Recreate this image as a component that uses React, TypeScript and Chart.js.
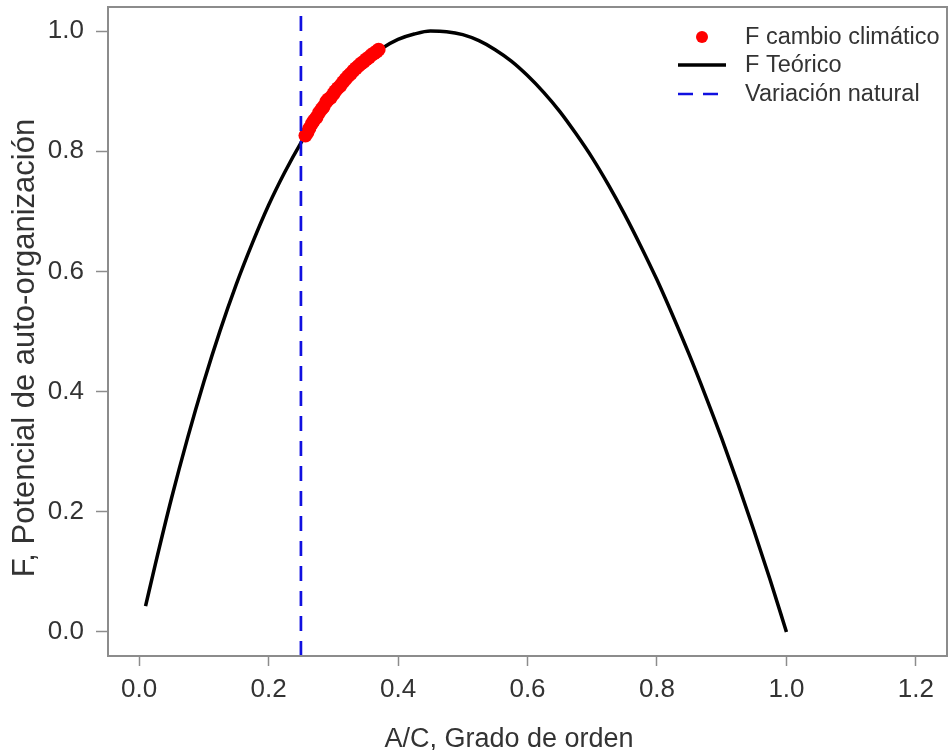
import React, { useEffect, useRef } from "react";
import { Chart, registerables } from "chart.js";

Chart.register(...registerables);

// ---- data ----
const THEO_X = [0.01, 0.025, 0.05, 0.075, 0.1, 0.125, 0.15, 0.175, 0.2, 0.225, 0.25, 0.275, 0.3, 0.325, 0.35, 0.375, 0.4, 0.425, 0.45, 0.475, 0.5, 0.525, 0.55, 0.575, 0.6, 0.625, 0.65, 0.675, 0.7, 0.725, 0.75, 0.775, 0.8, 0.825, 0.85, 0.875, 0.9, 0.925, 0.95, 0.975, 1.0];
const THEO_Y = [0.043, 0.112, 0.222, 0.323, 0.416, 0.501, 0.578, 0.647, 0.71, 0.765, 0.814, 0.857, 0.894, 0.926, 0.951, 0.971, 0.986, 0.995, 1.0, 0.999, 0.994, 0.984, 0.969, 0.95, 0.926, 0.898, 0.866, 0.829, 0.789, 0.744, 0.695, 0.642, 0.586, 0.525, 0.461, 0.393, 0.322, 0.247, 0.168, 0.086, 0.0];

const CC_X = [0.257, 0.26, 0.263, 0.267, 0.27, 0.274, 0.278, 0.282, 0.285, 0.289, 0.292, 0.296, 0.3, 0.303, 0.307, 0.311, 0.315, 0.319, 0.323, 0.327, 0.331, 0.335, 0.339, 0.343, 0.347, 0.351, 0.355, 0.359, 0.363, 0.367, 0.37];
const CC_Y = [0.826, 0.831, 0.838, 0.846, 0.851, 0.856, 0.864, 0.87, 0.874, 0.882, 0.886, 0.889, 0.895, 0.9, 0.905, 0.909, 0.915, 0.92, 0.925, 0.929, 0.934, 0.938, 0.942, 0.946, 0.949, 0.953, 0.956, 0.96, 0.963, 0.966, 0.969];

const NATURAL_X = 0.25;

const X_TICKS = [0.0, 0.2, 0.4, 0.6, 0.8, 1.0, 1.2];
const Y_TICKS = [0.0, 0.2, 0.4, 0.6, 0.8, 1.0];
const X_MIN = -0.048, X_MAX = 1.248;
const Y_MIN = -0.04, Y_MAX = 1.04;

const X_TITLE = "A/C, Grado de orden";
const Y_TITLE = "F, Potencial de auto-organización";
const LEGEND_LABELS = ["F cambio climático", "F Teórico", "Variación natural"];

const FONT = "'Liberation Sans', Arial, sans-serif";
const TXT = "#333333";
const AXIS_GRAY = "#8c8c8c";
const RED = "#ff0000";
const BLUE = "#1010e0";

const W = 949, H = 750;
const RIGHT_GAP = 2;

const zeroPad = (s: any) => {
  s.paddingLeft = 0;
  s.paddingRight = 0;
  s.paddingTop = 0;
  s.paddingBottom = 0;
};

const decorPlugin = {
  id: "decor",
  afterLayout(chart: any) {
    // stretch the plot region to the right edge, like the reference
    const a = chart.chartArea;
    const xs = chart.scales.x;
    const target = chart.width - RIGHT_GAP;
    a.right = target;
    a.width = a.right - a.left;
    xs.right = target;
    xs.width = xs.right - xs.left;
    xs.configure();
  },
  afterDraw(chart: any) {
    const ctx = chart.ctx;
    const a = chart.chartArea;
    ctx.save();
    // frame
    ctx.strokeStyle = AXIS_GRAY;
    ctx.lineWidth = 2;
    ctx.strokeRect(a.left, a.top, a.right - a.left, a.bottom - a.top);

    // axis titles
    ctx.fillStyle = TXT;
    ctx.font = `27px ${FONT}`;
    ctx.textAlign = "center";
    ctx.textBaseline = "alphabetic";
    ctx.fillText(X_TITLE, 509, 747);

    ctx.save();
    ctx.translate(34, 348);
    ctx.rotate(-Math.PI / 2);
    ctx.font = `31px ${FONT}`;
    ctx.textAlign = "center";
    ctx.textBaseline = "alphabetic";
    ctx.fillText(Y_TITLE, 0, 0);
    ctx.restore();

    // legend
    const rows = [37, 65, 94];
    const x0 = 678, x1 = 726, tx = 745;
    ctx.fillStyle = RED;
    ctx.beginPath();
    ctx.arc((x0 + x1) / 2, rows[0], 6, 0, Math.PI * 2);
    ctx.fill();
    ctx.strokeStyle = "#000";
    ctx.lineWidth = 3.5;
    ctx.setLineDash([]);
    ctx.beginPath();
    ctx.moveTo(x0, rows[1]);
    ctx.lineTo(x1, rows[1]);
    ctx.stroke();
    ctx.strokeStyle = BLUE;
    ctx.lineWidth = 2.7;
    ctx.setLineDash([15, 10]);
    ctx.beginPath();
    ctx.moveTo(x0, rows[2]);
    ctx.lineTo(x1, rows[2]);
    ctx.stroke();
    ctx.setLineDash([]);
    ctx.fillStyle = TXT;
    ctx.font = `23.5px ${FONT}`;
    ctx.textAlign = "left";
    ctx.textBaseline = "middle";
    LEGEND_LABELS.forEach((t, i) => ctx.fillText(t, tx, rows[i] + 1));
    ctx.restore();
  },
};

export default function App() {
  const ref = useRef<HTMLCanvasElement | null>(null);
  useEffect(() => {
    if (!ref.current) return;
    const theo = THEO_X.map((x, i) => ({ x, y: THEO_Y[i] }));
    const cc = CC_X.map((x, i) => ({ x, y: CC_Y[i] }));
    const natural = [
      { x: NATURAL_X, y: Y_MIN },
      { x: NATURAL_X, y: Y_MAX },
    ];
    const tickFont = { family: FONT, size: 26 };
    const chart = new Chart(ref.current, {
      type: "scatter",
      data: {
        datasets: [
          {
            type: "line",
            label: LEGEND_LABELS[1],
            data: theo,
            borderColor: "#000000",
            borderWidth: 3.5,
            pointRadius: 0,
            cubicInterpolationMode: "monotone",
            fill: false,
            order: 2,
          },
          {
            label: LEGEND_LABELS[0],
            data: cc,
            backgroundColor: RED,
            borderColor: RED,
            borderWidth: 0,
            pointRadius: 7,
            order: 1,
          },
          {
            type: "line",
            label: LEGEND_LABELS[2],
            data: natural,
            borderColor: BLUE,
            borderWidth: 2.7,
            borderDash: [15, 10],
            pointRadius: 0,
            fill: false,
            order: 0,
          },
        ],
      } as any,
      options: {
        animation: false,
        responsive: false,
        maintainAspectRatio: false,
        layout: { padding: { top: 7, right: RIGHT_GAP, left: 0, bottom: 0 } },
        plugins: { legend: { display: false }, tooltip: { enabled: false } },
        scales: {
          x: {
            type: "linear",
            min: X_MIN,
            max: X_MAX,
            afterBuildTicks: (s: any) => {
              s.ticks = X_TICKS.map((v) => ({ value: v }));
            },
            afterFit: (s: any) => {
              s.height = 94;
              zeroPad(s);
            },
            ticks: {
              font: tickFont,
              color: TXT,
              padding: 8,
              autoSkip: false,
              maxRotation: 0,
              callback: (v: any) => Number(v).toFixed(1),
            },
            grid: {
              display: true,
              drawOnChartArea: false,
              drawTicks: true,
              tickLength: 10,
              tickWidth: 1.5,
              tickColor: AXIS_GRAY,
            },
            border: { display: false },
          },
          y: {
            type: "linear",
            min: Y_MIN,
            max: Y_MAX,
            afterBuildTicks: (s: any) => {
              s.ticks = Y_TICKS.map((v) => ({ value: v }));
            },
            afterFit: (s: any) => {
              s.width = 108;
              zeroPad(s);
            },
            ticks: {
              font: tickFont,
              color: TXT,
              padding: 12,
              autoSkip: false,
              callback: (v: any) => Number(v).toFixed(1),
            },
            grid: {
              display: true,
              drawOnChartArea: false,
              drawTicks: true,
              tickLength: 12,
              tickWidth: 1.5,
              tickColor: AXIS_GRAY,
            },
            border: { display: false },
          },
        },
      } as any,
      plugins: [decorPlugin],
    });
    return () => chart.destroy();
  }, []);
  return (
    <div style={{ position: "absolute", left: 0, top: 0, width: W, height: H, background: "#fff" }}>
      <canvas ref={ref} width={W} height={H} style={{ display: "block", width: W, height: H }} />
    </div>
  );
}
